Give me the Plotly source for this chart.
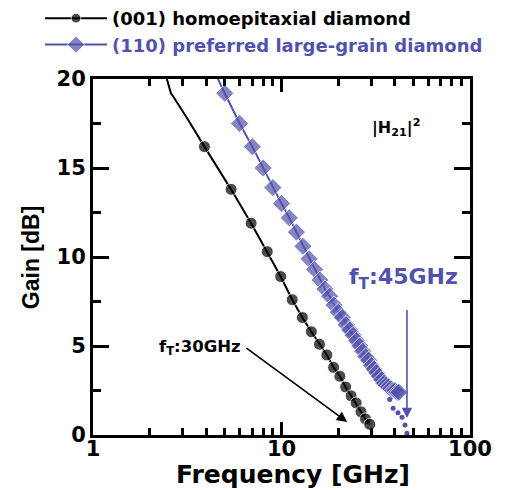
import plotly.graph_objects as go
import numpy as np

# (001) homoepitaxial diamond
freq_001_lead = [2.42, 2.59, 2.67, 3.2]
gain_001_lead = [20.3, 19.2, 19.0, 17.7]
freq_001 = [3.9, 5.4, 6.9, 8.4, 9.9, 11.4, 12.9, 14.4, 15.9, 17.4, 18.9, 20.4,
            21.9, 23.4, 24.9, 26.4, 27.9, 29.4]
gain_001 = [16.2, 13.8, 11.9, 10.3, 8.9, 7.6, 6.6, 5.8, 5.1, 4.5, 3.8, 3.3,
            2.7, 2.2, 1.8, 1.3, 0.9, 0.6]

# (110) preferred large-grain diamond
freq_110_lead = [4.5, 4.6]
gain_110_lead = [20.4, 20.0]
freq_110 = list(range(5, 43))
gain_110 = [19.2, 17.5, 16.2, 15.0, 13.9, 13.0, 12.2, 11.4, 10.6, 9.9,
            9.3, 8.7, 8.2, 7.8, 7.3, 6.9, 6.6, 6.2, 5.9, 5.6,
            5.3, 5.0, 4.7, 4.4, 4.2, 3.9, 3.7, 3.5, 3.3, 3.1,
            2.9, 2.8, 2.7, 2.6, 2.5, 2.5, 2.4, 2.4]
# extrapolation dots
freq_110_ext = [37.5, 39.1, 41.5, 43.6, 45.2, 46.3]
gain_110_ext = [2.0, 1.5, 1.25, 1.0, 0.56, 0.1]

x_tickvals = [1, 10, 100]
x_ticktext = ["1", "10", "100"]
y_tickvals = [0, 5, 10, 15, 20]

BLUE = "#5252ae"
FONT = "DejaVu Sans"
FONT_V = "Liberation Sans"

fig = go.Figure()
fig.add_trace(go.Scatter(
    x=freq_001_lead + freq_001, y=gain_001_lead + gain_001,
    mode="lines+markers", name="(001) homoepitaxial diamond",
    line=dict(color="black", width=2),
    marker=dict(symbol="circle", color="black",
                size=[0] * len(freq_001_lead) + [12] * len(freq_001)),
))
fig.add_trace(go.Scatter(
    x=freq_110_lead + freq_110, y=gain_110_lead + gain_110,
    mode="lines+markers",
    name=f"<span style='color:{BLUE}'>(110) preferred large-grain diamond</span>",
    line=dict(color=BLUE, width=2),
    marker=dict(symbol="diamond", color=BLUE,
                size=[0] * len(freq_110_lead) + [14] * len(freq_110)),
))
fig.add_trace(go.Scatter(
    x=freq_110_ext, y=gain_110_ext, mode="markers", showlegend=False,
    marker=dict(symbol="circle", color=BLUE, size=5),
))

# arrows
fig.add_annotation(x=np.log10(22.3), y=0.73, ax=np.log10(6.4), ay=4.94,
                   xref="x", yref="y", axref="x", ayref="y", text="",
                   showarrow=True, arrowhead=2, arrowsize=1.3, arrowwidth=1.6,
                   arrowcolor="black")
fig.add_annotation(x=np.log10(46.3), y=0.95, ax=np.log10(46.3), ay=7.1,
                   xref="x", yref="y", axref="x", ayref="y", text="",
                   showarrow=True, arrowhead=2, arrowsize=1.3, arrowwidth=1.6,
                   arrowcolor=BLUE)
# labels
fig.add_annotation(x=np.log10(3.7), y=4.94, xref="x", yref="y",
                   text="f<sub>T</sub>:30GHz", showarrow=False,
                   font=dict(size=16.5, color="black", family=FONT, weight="bold"))
fig.add_annotation(x=np.log10(44.5), y=8.8, xref="x", yref="y",
                   text="f<sub>T</sub>:45GHz", showarrow=False,
                   font=dict(size=22, color=BLUE, family=FONT, weight="bold"))
fig.add_annotation(x=np.log10(40.5), y=17.3, xref="x", yref="y",
                   text="|H<sub>21</sub>|<sup>2</sup>", showarrow=False,
                   font=dict(size=16, color="black", family=FONT, weight="bold"))
# axis titles
fig.add_annotation(x=0.53, y=-0.11, xref="paper", yref="paper",
                   text="Frequency [GHz]", showarrow=False, xanchor="center", yanchor="middle",
                   font=dict(size=25, color="black", family=FONT, weight="bold"))
fig.add_annotation(x=-0.164, y=0.5, xref="paper", yref="paper", textangle=-90,
                   text="Gain [dB]", showarrow=False, xanchor="center", yanchor="middle",
                   font=dict(size=23, color="black", family=FONT_V, weight="bold"))

axis_common = dict(showline=True, linewidth=3, linecolor="black", mirror="allticks",
                   ticks="inside", tickwidth=3, tickcolor="black", showgrid=False,
                   zeroline=False, automargin=False,
                   tickfont=dict(size=21, family=FONT, color="black", weight="bold"))

fig.update_xaxes(type="log", range=[0, 2], tickvals=x_tickvals, ticktext=x_ticktext,
                 ticklen=13, ticklabelstandoff=-7,
                 minor=dict(ticks="inside", ticklen=7, tickwidth=2.5, tickcolor="black",
                            dtick="D1", showgrid=False),
                 **axis_common)
fig.update_yaxes(range=[0, 20], tickvals=y_tickvals, ticklen=16,
                 minor=dict(ticks="inside", ticklen=8, tickwidth=2.5, tickcolor="black",
                            dtick=2.5, showgrid=False),
                 **axis_common)

fig.update_layout(
    width=507, height=482,
    margin=dict(l=85, r=45, t=71, b=55, autoexpand=False),
    plot_bgcolor="white", paper_bgcolor="white",
    font=dict(family=FONT, color="black", weight="bold"),
    legend=dict(xref="paper", yref="paper", x=-0.1406, y=1.222,
                xanchor="left", yanchor="top",
                bgcolor="rgba(0,0,0,0)", font=dict(size=18, family=FONT, weight="bold"),
                tracegroupgap=0, itemwidth=62),
    showlegend=True,
)

fig.write_html("out.html")
